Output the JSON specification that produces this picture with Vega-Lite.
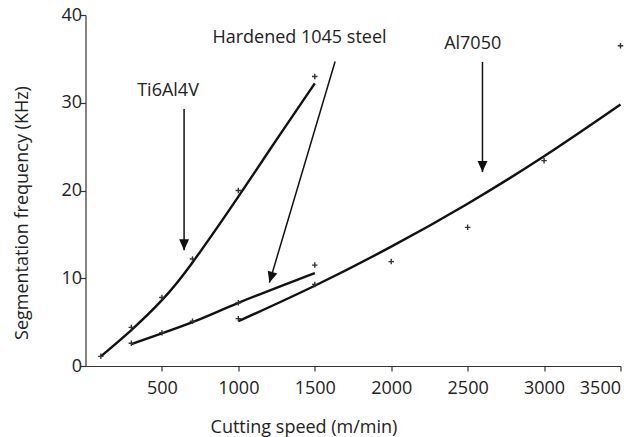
{
  "$schema": "https://vega.github.io/schema/vega-lite/v6.json",
  "autosize": "none",
  "width": 535,
  "height": 351,
  "padding": {"left": 85.5, "top": 15, "right": 20.5, "bottom": 71},
  "background": "white",
  "config": {
    "view": {"stroke": null},
    "font": "Open Sans",
    "axis": {
      "grid": false,
      "domainColor": "#333333",
      "domainWidth": 1.2,
      "tickColor": "#333333",
      "tickWidth": 1.2,
      "tickSize": 5,
      "labelFont": "Open Sans",
      "labelFontSize": 18,
      "labelColor": "#222222",
      "titleFont": "Open Sans",
      "titleFontSize": 18,
      "titleFontWeight": "normal",
      "titleColor": "#222222"
    }
  },
  "datasets": {
    "fits": [
      {"material": "Ti6Al4V", "speed": 100, "freq": 1.1},
      {"material": "Ti6Al4V", "speed": 300, "freq": 4.1},
      {"material": "Ti6Al4V", "speed": 500, "freq": 7.5},
      {"material": "Ti6Al4V", "speed": 700, "freq": 11.8},
      {"material": "Ti6Al4V", "speed": 1000, "freq": 19.3},
      {"material": "Ti6Al4V", "speed": 1250, "freq": 25.8},
      {"material": "Ti6Al4V", "speed": 1500, "freq": 32.2},
      {"material": "Hardened 1045 steel", "speed": 300, "freq": 2.5},
      {"material": "Hardened 1045 steel", "speed": 700, "freq": 5.0},
      {"material": "Hardened 1045 steel", "speed": 1000, "freq": 7.2},
      {"material": "Hardened 1045 steel", "speed": 1500, "freq": 10.6},
      {"material": "Al7050", "speed": 1000, "freq": 5.1},
      {"material": "Al7050", "speed": 1500, "freq": 9.15},
      {"material": "Al7050", "speed": 2000, "freq": 13.6},
      {"material": "Al7050", "speed": 2500, "freq": 18.5},
      {"material": "Al7050", "speed": 3000, "freq": 23.9},
      {"material": "Al7050", "speed": 3500, "freq": 29.8}
    ],
    "measured": [
      {"material": "Ti6Al4V", "speed": 100, "freq": 1.1},
      {"material": "Ti6Al4V", "speed": 300, "freq": 4.4},
      {"material": "Ti6Al4V", "speed": 500, "freq": 7.8},
      {"material": "Ti6Al4V", "speed": 700, "freq": 12.2},
      {"material": "Ti6Al4V", "speed": 1000, "freq": 20.0},
      {"material": "Ti6Al4V", "speed": 1500, "freq": 33.0},
      {"material": "Hardened 1045 steel", "speed": 300, "freq": 2.6},
      {"material": "Hardened 1045 steel", "speed": 500, "freq": 3.8},
      {"material": "Hardened 1045 steel", "speed": 700, "freq": 5.1},
      {"material": "Hardened 1045 steel", "speed": 1000, "freq": 7.2},
      {"material": "Hardened 1045 steel", "speed": 1500, "freq": 11.5},
      {"material": "Al7050", "speed": 1000, "freq": 5.4},
      {"material": "Al7050", "speed": 1500, "freq": 9.3},
      {"material": "Al7050", "speed": 2000, "freq": 11.9},
      {"material": "Al7050", "speed": 2500, "freq": 15.8},
      {"material": "Al7050", "speed": 3000, "freq": 23.4},
      {"material": "Al7050", "speed": 3500, "freq": 36.5}
    ],
    "callouts": [
      {"label": "Ti6Al4V", "lx": 540, "ly": 31.3, "x0": 645, "y0": 29.3, "x1": 645, "y1": 13.2, "turn": 0},
      {"label": "Hardened 1045 steel", "lx": 1400, "ly": 37.4, "x0": 1633, "y0": 34.7, "x1": 1203, "y1": 9.5, "turn": 16.6},
      {"label": "Al7050", "lx": 2533, "ly": 36.75, "x0": 2597, "y0": 34.65, "x1": 2597, "y1": 22.1, "turn": 0}
    ]
  },
  "layer": [
    {
      "data": {"name": "fits"},
      "mark": {"type": "line", "color": "#111111", "strokeWidth": 2.4, "interpolate": "natural"},
      "encoding": {
        "x": {
          "field": "speed",
          "type": "quantitative",
          "scale": {"domain": [0, 3500], "nice": false, "zero": false},
          "axis": {
            "values": [500, 1000, 1500, 2000, 2500, 3000, 3500],
            "format": "d",
            "labelPadding": 8,
            "encode": {"ticks": {"update": {"y2": {"value": -5}}}},
            "title": "Cutting speed (m/min)",
            "titleX": 218,
            "titleY": 61,
            "titleAlign": "center",
            "titleBaseline": "middle",
            "titleAnchor": null
          }
        },
        "y": {
          "field": "freq",
          "type": "quantitative",
          "scale": {"domain": [0, 40], "nice": false},
          "axis": {
            "values": [0, 10, 20, 30, 40],
            "format": "d",
            "labelPadding": -1,
            "encode": {"ticks": {"update": {"x2": {"value": 5}}}},
            "title": "Segmentation frequency (KHz)",
            "titleX": -63.5,
            "titleY": 197.5,
            "titleAngle": -90,
            "titleAlign": "center",
            "titleBaseline": "middle",
            "titleAnchor": null
          }
        },
        "detail": {"field": "material"}
      }
    },
    {
      "data": {"name": "measured"},
      "mark": {
        "type": "point",
        "shape": "M-1,0L1,0M0,-1L0,1",
        "filled": false,
        "size": 30,
        "strokeWidth": 1.4,
        "color": "#333333",
        "opacity": 1
      },
      "encoding": {
        "x": {"field": "speed", "type": "quantitative"},
        "y": {"field": "freq", "type": "quantitative"}
      }
    },
    {
      "data": {"name": "callouts"},
      "mark": {"type": "rule", "color": "#111111", "strokeWidth": 1.5},
      "encoding": {
        "x": {"field": "x0", "type": "quantitative"},
        "y": {"field": "y0", "type": "quantitative"},
        "x2": {"field": "x1"},
        "y2": {"field": "y1"}
      }
    },
    {
      "data": {"name": "callouts"},
      "mark": {
        "type": "point",
        "shape": "M0,0L-0.9,-2L0.9,-2Z",
        "filled": true,
        "size": 121,
        "color": "#111111",
        "opacity": 1
      },
      "encoding": {
        "x": {"field": "x1", "type": "quantitative"},
        "y": {"field": "y1", "type": "quantitative"},
        "angle": {"field": "turn", "type": "quantitative", "scale": null}
      }
    },
    {
      "data": {"name": "callouts"},
      "mark": {"type": "text", "font": "Open Sans", "fontSize": 18, "color": "#222222", "align": "center", "baseline": "middle"},
      "encoding": {
        "x": {"field": "lx", "type": "quantitative"},
        "y": {"field": "ly", "type": "quantitative"},
        "text": {"field": "label"}
      }
    }
  ]
}
